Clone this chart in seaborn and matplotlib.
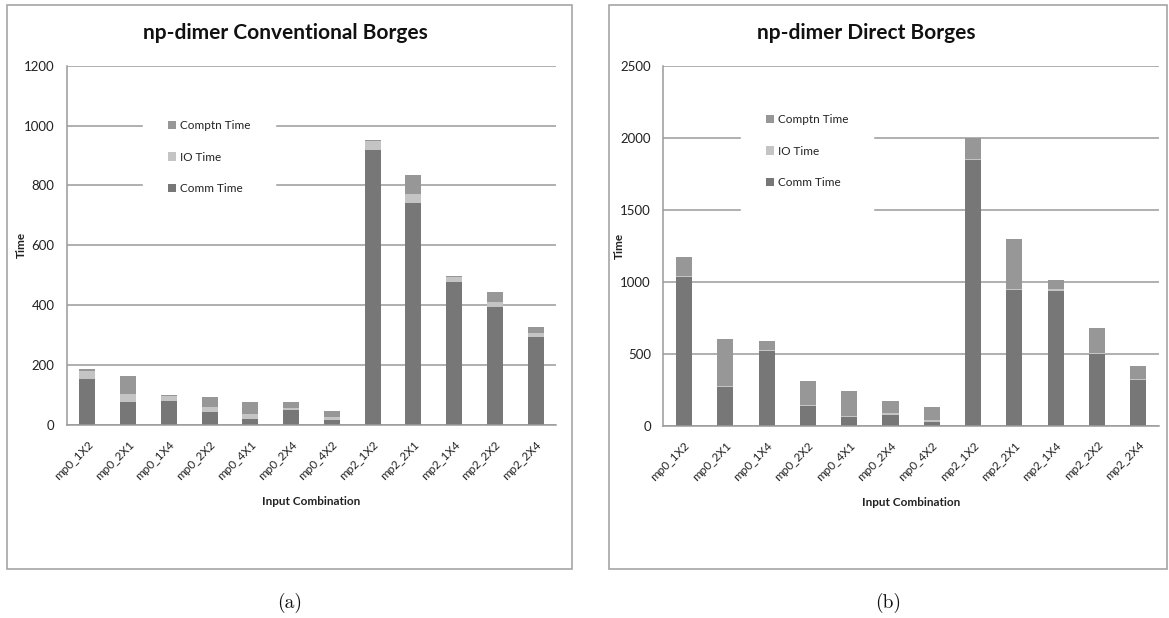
import numpy as np
import pandas as pd
import matplotlib
matplotlib.use("Agg")
import matplotlib.pyplot as plt
import matplotlib.transforms as mtransforms
from matplotlib.patches import Rectangle, Patch
import seaborn as sns

# Input combinations shown on both panels
combos = ["mp0_1X2", "mp0_2X1", "mp0_1X4", "mp0_2X2", "mp0_4X1", "mp0_2X4",
          "mp0_4X2", "mp2_1X2", "mp2_2X1", "mp2_1X4", "mp2_2X2", "mp2_2X4"]

# Conventional Borges timings
conv_comm = [153, 78, 81, 45, 21, 49, 18, 917, 742, 476, 395, 295]
conv_io = [27, 25, 17, 15, 16, 8, 9, 30, 30, 18, 16, 12]
conv_comp = [7, 62, 3, 35, 39, 21, 21, 6, 63, 4, 33, 21]

# Direct Borges timings
dir_comm = [1035, 268, 520, 137, 57, 77, 27, 1845, 942, 937, 495, 314]
dir_io = [8, 8, 8, 8, 9, 8, 10, 10, 10, 10, 10, 8]
dir_comp = [128, 326, 63, 165, 174, 88, 92, 140, 343, 68, 173, 93]

sns.set_style("white")
plt.rcParams["font.family"] = ["Lato", "DejaVu Sans"]

COMM = "#777777"
IO = "#c4c4c4"
COMP = "#979797"
GRID = "#9a9a9a"
TXT = "#222222"

W, H = 1169, 618
fig = plt.figure(figsize=(W / 100, H / 100), dpi=100)


def fx(px):
    return px / W


def fy(py):
    return 1 - py / H


def panel(box, frame, title, title_x, comm, io, comp, ymax, ystep,
          leg_xy, ylabel_x, tag):
    l, t, r, b = box
    ax = fig.add_axes([fx(l), fy(b), fx(r - l), fy(t) - fy(b)])
    df = pd.DataFrame({"combo": combos, "comm": comm, "io": io, "comp": comp})
    df["comm_io"] = df["comm"] + df["io"]
    df["total"] = df["comm_io"] + df["comp"]

    # stacked bars: draw cumulative heights from tallest to shortest
    for col, color in [("total", COMP), ("comm_io", IO), ("comm", COMM)]:
        sns.barplot(data=df, x="combo", y=col, color=color, saturation=1,
                    width=0.39, linewidth=0, ax=ax, zorder=2)

    ax.set_xlim(-0.5, len(combos) - 0.5)
    ax.set_ylim(0, ymax)
    ax.set_yticks(np.arange(0, ymax + 1, ystep))
    ax.yaxis.grid(True, color=GRID, lw=1.1)
    ax.set_axisbelow(True)
    for s in ["top", "right"]:
        ax.spines[s].set_visible(False)
    for s in ["left", "bottom"]:
        ax.spines[s].set_color(GRID)
        ax.spines[s].set_linewidth(1.1)

    ax.set_xticks(np.arange(len(combos)))
    ax.set_xticklabels(combos, rotation=45, ha="right", rotation_mode="anchor")
    shift = mtransforms.ScaledTranslation(3 / 100, 0, fig.dpi_scale_trans)
    for lab in ax.get_xticklabels():
        lab.set_transform(lab.get_transform() + shift)
    ax.set_xticks(np.arange(-0.5, len(combos)), minor=True)
    ax.tick_params(axis="x", which="major", length=0, pad=10, labelsize=8.5,
                   labelcolor=TXT)
    ax.tick_params(axis="x", which="minor", length=5, width=1.1, color=GRID,
                   direction="out")
    ax.tick_params(axis="y", length=5, width=1.1, color=GRID, direction="out",
                   pad=4, labelsize=9.5, labelcolor=TXT)

    ax.set_xlabel("Input Combination", fontsize=8.5, fontweight="bold",
                  color=TXT, labelpad=10)
    ax.set_ylabel("")
    fig.text(fx(ylabel_x), fy((t + b) / 2), "Time", rotation=90, ha="center",
             va="center", fontsize=8.5, fontweight="bold", color=TXT)

    handles = [Patch(facecolor=COMP, edgecolor="none"),
               Patch(facecolor=IO, edgecolor="none"),
               Patch(facecolor=COMM, edgecolor="none")]
    lx, ly = leg_xy
    leg = ax.legend(handles, ["Comptn Time", "IO Time", "Comm Time"],
                    loc="center",
                    bbox_to_anchor=((lx - l) / (r - l), (b - ly) / (b - t)),
                    fontsize=8.5, frameon=True, fancybox=False,
                    facecolor="white", edgecolor="white", framealpha=1,
                    borderpad=2.1, labelspacing=1.75, handlelength=0.7,
                    handleheight=0.7, handletextpad=0.3)
    for txt in leg.get_texts():
        txt.set_color(TXT)

    fl, ft, fr, fb = frame
    fig.add_artist(Rectangle((fx(fl), fy(fb)), fx(fr - fl), fy(ft) - fy(fb),
                             transform=fig.transFigure, fill=False,
                             edgecolor="#a6a6a6", lw=1.2))
    fig.text(fx(title_x), fy(33), title, ha="center", va="center",
             fontsize=15, fontweight="bold", color="#111111")
    fig.text(fx((fl + fr) / 2), fy(603), tag, ha="center", va="center",
             fontsize=14, family="cmr10", color="#111111")
    return ax


panel((67, 65.7, 556, 425), (7, 5, 572, 569), "np-dimer Conventional Borges",
      285, conv_comm, conv_io, conv_comp, 1200, 200, (209, 157), 21, "(a)")
panel((663.3, 65.7, 1159, 425.7), (609, 5, 1167, 569), "np-dimer Direct Borges",
      866, dir_comm, dir_io, dir_comp, 2500, 500, (807, 151), 619, "(b)")

fig.savefig("out.png", dpi=100)
